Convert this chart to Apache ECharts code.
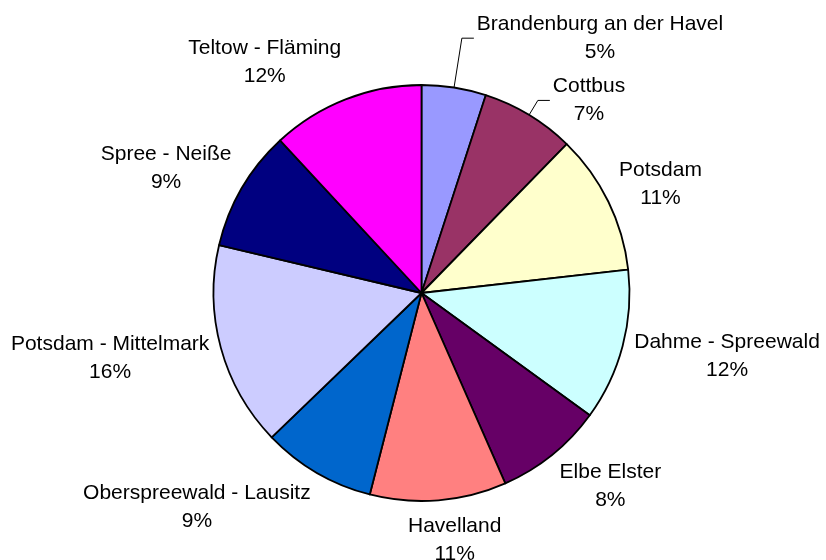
<!DOCTYPE html>
<html>
<head>
<meta charset="utf-8">
<script src="https://cdn.jsdelivr.net/npm/echarts@6/dist/echarts.min.js"></script>
<style>
html,body{margin:0;padding:0;background:#fff}
#main{width:826px;height:560px}
</style>
</head>
<body>
<div id="main"></div>
<script>
var names = ['Brandenburg an der Havel', 'Cottbus', 'Potsdam', 'Dahme - Spreewald', 'Elbe Elster',
  'Havelland', 'Oberspreewald - Lausitz', 'Potsdam - Mittelmark', 'Spree - Neiße', 'Teltow - Fläming'];
var values = [5.0, 7.3, 10.9, 11.8, 8.4, 10.6, 8.8, 15.9, 9.4, 11.9];
var colors = ['#9999FF', '#993366', '#FFFFCC', '#CCFFFF', '#660066',
  '#FF8080', '#0066CC', '#CCCCFF', '#000080', '#FF00FF'];
// slices whose label hangs on a leader line: radial length of that line
var callout = {0: 50, 1: 17};

window.onload = function () {
  var cx = 421.5, cy = 293, R = 208;
  var gap = 12, fontSize = 21, lineH = 28;
  var font = 'Liberation Sans';

  var total = 0, cum = [];
  for (var i = 0; i < values.length; i++) {
    cum.push(total);
    total += values[i];
  }

  var ctx = document.createElement('canvas').getContext('2d');
  ctx.font = fontSize + 'px "' + font + '"';

  // excel like placement: label box just outside the slice, along its middle
  function placeLabel(params) {
    var i = params.dataIndex;
    var mid = (cum[i] + values[i] / 2) / total * 2 * Math.PI;
    var ux = Math.sin(mid), uy = -Math.cos(mid);
    var pct = Math.round(values[i] / total * 100) + '%';
    var w = Math.max(ctx.measureText(names[i]).width, ctx.measureText(pct).width);
    var h = lineH * 2;
    if (callout[i] != null) {
      var px = cx + R * ux, py = cy + R * uy;
      var ex = cx + (R + callout[i]) * ux, ey = cy + (R + callout[i]) * uy;
      var fx = ex + 12;
      return {
        x: fx + 3 + w / 2, y: ey, align: 'center', verticalAlign: 'middle', width: w + 4,
        labelLinePoints: [[px, py], [ex, ey], [fx, ey]]
      };
    }
    var kx = Math.max(-1, Math.min(1, ux * 4));
    return {
      x: cx + (R + gap) * ux + kx * w / 2,
      y: cy + (R + gap) * uy + uy * h / 2,
      align: 'center', verticalAlign: 'middle', width: w + 4
    };
  }

  var data = [];
  for (var i = 0; i < values.length; i++) {
    data.push({
      name: names[i],
      value: values[i],
      itemStyle: {color: colors[i]},
      labelLine: {show: callout[i] != null}
    });
  }

  var myChart = echarts.init(document.getElementById('main'));
  var option = {
    animation: false,
    backgroundColor: '#fff',
    series: [{
      type: 'pie',
      center: [cx, cy],
      radius: R,
      startAngle: 90,
      clockwise: true,
      percentPrecision: 0,
      avoidLabelOverlap: false,
      itemStyle: {borderColor: '#000', borderWidth: 1.8},
      emphasis: {disabled: true},
      label: {
        show: true,
        position: 'outside',
        color: '#000',
        fontFamily: font,
        fontSize: fontSize,
        lineHeight: lineH,
        formatter: '{b}\n{d}%'
      },
      labelLine: {
        show: true,
        lineStyle: {color: '#000', width: 1}
      },
      labelLayout: placeLabel,
      data: data
    }]
  };
  myChart.setOption(option);
};
</script>
</body>
</html>
